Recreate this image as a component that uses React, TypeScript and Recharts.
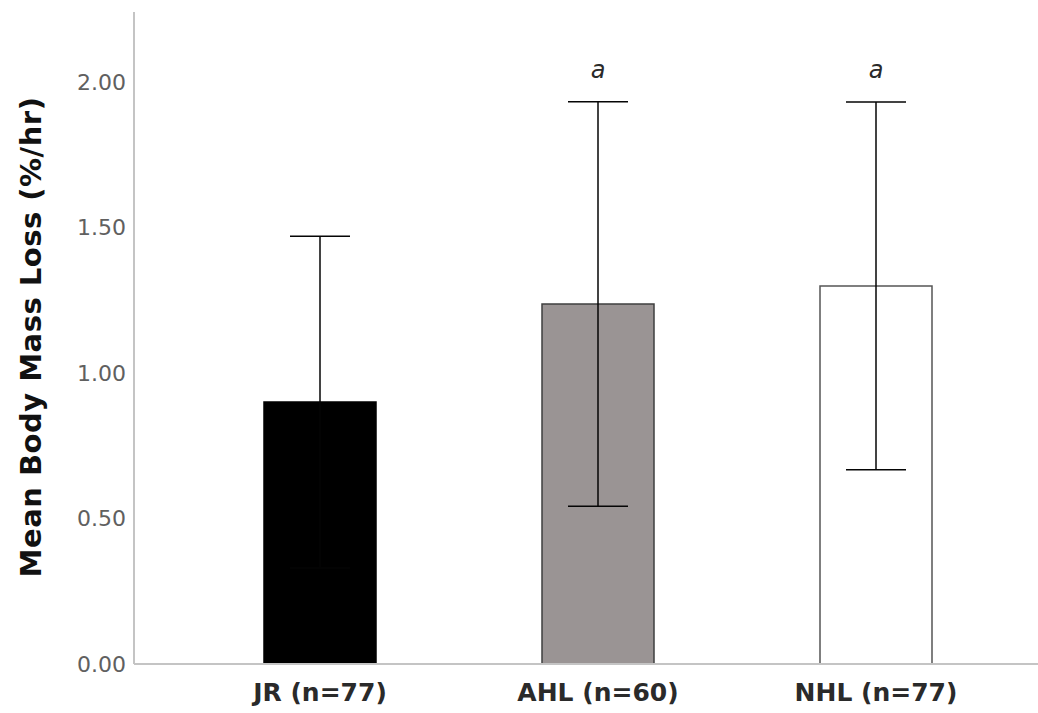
import React from "react";
import { ComposedChart, Bar, Cell, ErrorBar, Line, LabelList, XAxis, YAxis } from "recharts";

const categories = ["JR (n=77)", "AHL (n=60)", "NHL (n=77)"];
const means = [0.9, 1.237, 1.299];
const errors = [0.57, 0.695, 0.632];
const sigLabels = ["", "a", "a"];
const fills = ["#000000", "#9a9494", "#ffffff"];
const strokes = ["#000000", "#3f3f3f", "#555555"];
const yTicks = [0, 0.5, 1, 1.5, 2];

const data = categories.map((c, i) => ({
  name: c,
  mean: means[i],
  err: errors[i],
  upper: means[i] + errors[i],
  sig: sigLabels[i],
}));

const FONT = "'DejaVu Sans', 'Open Sans', sans-serif";

export default function App() {
  return (
    <div style={{ position: "absolute", left: 0, top: 0, width: 1038, height: 713, background: "#fff" }}>
      <ComposedChart width={1038} height={713} data={data} margin={{ top: 12, right: 0, left: 0, bottom: 0 }}>
        <XAxis
          dataKey="name"
          type="category"
          height={49}
          padding={{ left: 47, right: 23 }}
          axisLine={{ stroke: "#c4c4c4", strokeWidth: 2 }}
          tickLine={false}
          tickSize={0}
          tickMargin={19}
          tick={{ fill: "#2a2a2a", fontSize: 25, fontWeight: 700, fontFamily: FONT }}
          interval={0}
        />
        <YAxis
          type="number"
          domain={[0, 2.24]}
          ticks={yTicks}
          width={134}
          axisLine={{ stroke: "#c4c4c4", strokeWidth: 2 }}
          tickLine={false}
          tickSize={0}
          tickMargin={8}
          tickFormatter={(v: number) => v.toFixed(2)}
          tick={{ fill: "#606060", fontSize: 22, fontFamily: FONT }}
          label={{
            content: () => (
              <text
                x={0}
                y={0}
                transform="translate(41,337) rotate(-90)"
                textAnchor="middle"
                fill="#111"
                fontSize={29}
                fontWeight={700}
                letterSpacing={0.5}
                fontFamily={FONT}
              >
                Mean Body Mass Loss (%/hr)
              </text>
            ),
          }}
        />
        <Bar dataKey="mean" barSize={112} isAnimationActive={false} strokeWidth={1.5}>
          {data.map((d, i) => (
            <Cell key={d.name} fill={fills[i]} stroke={strokes[i]} />
          ))}
          <ErrorBar dataKey="err" width={30} stroke="#050505" strokeWidth={1.5} isAnimationActive={false} />
        </Bar>
        <Line
          dataKey="upper"
          stroke="none"
          dot={false}
          activeDot={false}
          legendType="none"
          isAnimationActive={false}
        >
          <LabelList
            dataKey="sig"
            position="top"
            offset={24}
            fill="#2a2a2a"
            fontSize={24}
            fontStyle="italic"
            fontFamily={FONT}
          />
        </Line>
      </ComposedChart>
    </div>
  );
}
